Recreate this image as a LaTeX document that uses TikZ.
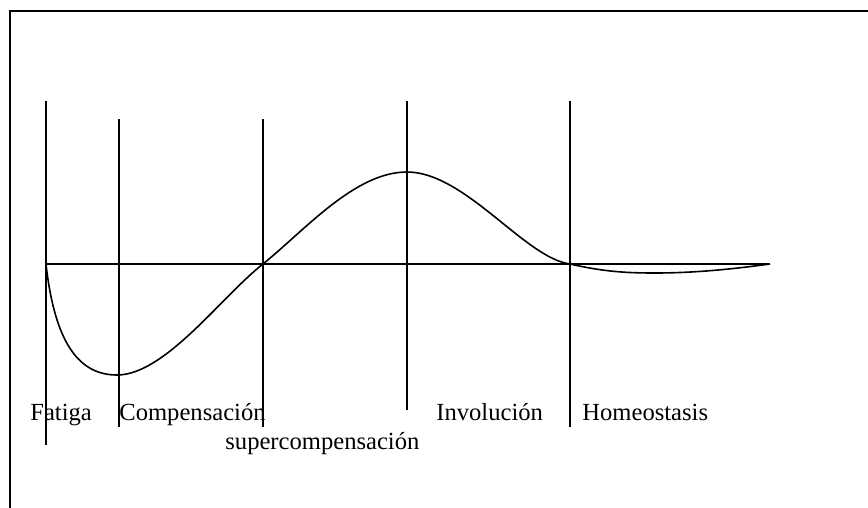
\documentclass[tikz,border=0pt]{standalone}
\usepackage{fontspec}
\setmainfont{Liberation Serif}
\usepackage{tikz}
\usetikzlibrary{positioning}
\tikzset{
  frameline/.style={line width=0.8pt, draw=black},
  phaseline/.style={line width=0.8pt, draw=black},
  curve/.style    ={line width=0.8pt, draw=black},
  phaselbl/.style ={inner sep=0pt, anchor=base west, font=\fontsize{12.3}{14}\selectfont}
}
\begin{document}
\begin{tikzpicture}[x=0.5pt, y=-0.5pt]
\useasboundingbox (0,0) rectangle (868,508);
% frame (only left and top edges are visible)
\draw[frameline] (10,508) -- (10,11) -- (868,11);
% phase boundaries
\foreach \x/\top/\bot/\name in {46/101/445/fat, 119/119/427/comp, 263/119/427/sup, 407/101/410/inv, 570/101/427/hom}{
  \coordinate (\name-t) at (\x,\top);
  \coordinate (\name-b) at (\x,\bot);
  \draw[phaseline] (\name-t) -- (\name-b);
}
% base line
\coordinate (axisend) at (770,264);
\draw[phaseline] (46,264) -- (axisend);
% response curve
\draw[curve] (46,264) .. controls (55,345) and (80,375) .. (117,375)
  .. controls (165,375) and (222,296) .. (263,264)
  .. controls (305,230) and (355,172) .. (407,172)
  .. controls (465,172) and (525,258) .. (570,264)
  .. controls (605,272) and (628,273) .. (655,273)
  .. controls (700,273) and (740,268) .. (axisend);
% labels
\node[phaselbl] (fatiga) at (30,420) {Fatiga};
\node[phaselbl] (compensacion) at (119,420) {Compensación};
\node[phaselbl] (supercomp) at (225,449) {supercompensación};
\node[phaselbl] (involucion) at (436,420) {Involución};
\node[phaselbl] (homeostasis) at (582,420) {Homeostasis};
\end{tikzpicture}
\end{document}
